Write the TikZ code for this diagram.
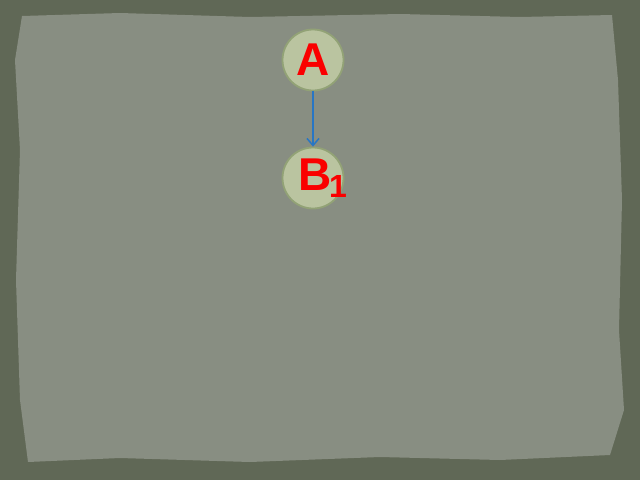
\documentclass[tikz,border=0pt]{standalone}
\usepackage{fontspec}
\setmainfont{Liberation Sans}
\usetikzlibrary{arrows.meta}
\definecolor{bgdark}{RGB}{96,104,86}
\definecolor{paper}{RGB}{136,142,130}
\definecolor{circfill}{RGB}{186,196,160}
\definecolor{circline}{RGB}{146,162,118}
\definecolor{arrowblue}{RGB}{40,118,196}
\definecolor{txtred}{RGB}{250,0,0}
\tikzset{
  vert/.style={circle, minimum size=61pt, inner sep=0pt, fill=circfill, draw=circline, line width=1.8pt,
    font=\fontsize{46}{46}\selectfont\bfseries, text=txtred},
  link/.style={draw=arrowblue, line width=2.2pt, -{Straight Barb[length=7pt,width=12pt,line width=1.5pt]}}
}
\begin{document}
\begin{tikzpicture}[x=1pt,y=-1pt]
\useasboundingbox (0,0) rectangle (640,480);
\fill[bgdark] (0,0) rectangle (640,480);
\fill[paper] (22,16) -- (120,13) -- (250,17) -- (400,14) -- (520,17) -- (612,15)
  -- (618,80) -- (622,200) -- (619,330) -- (624,410) -- (610,455)
  -- (500,460) -- (380,457) -- (250,462) -- (120,458) -- (28,462)
  -- (20,400) -- (16,280) -- (20,150) -- (15,60) -- cycle;
\node[vert] (a) at (313,60) {\raisebox{1pt}{A}};
\node[vert] (b) at (313,178) {\makebox[30pt][l]{B\kern-2pt\raisebox{-7pt}{\fontsize{32}{32}\selectfont 1}}};
\draw[link] (a) -- (b);
\end{tikzpicture}
\end{document}
